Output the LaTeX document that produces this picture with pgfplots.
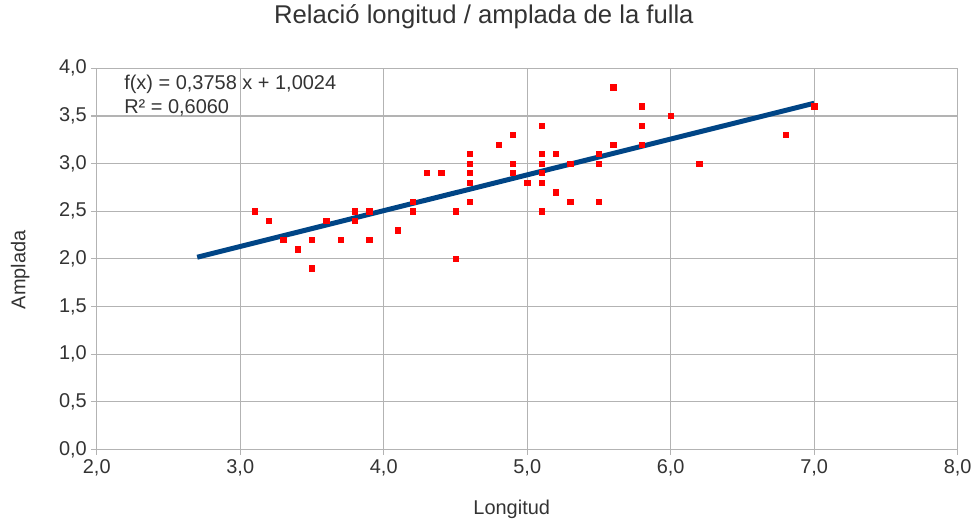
\documentclass[border=0pt]{standalone}
\usepackage{pgfplots}
\pgfplotsset{compat=1.18}
\usepackage{fontspec}
\setmainfont{Liberation Sans}
\definecolor{gridgray}{HTML}{B3B3B3}
\definecolor{trendblue}{HTML}{004586}
\definecolor{txt}{HTML}{333333}

\begin{document}
\begin{tikzpicture}
\begin{axis}[
    name=main,
    at={(0,0)}, anchor=south west,
    scale only axis,
    width=647.25pt, height=286.5pt,
    xmin=2, xmax=8, ymin=0, ymax=4,
    xtick={2,3,...,8},
    ytick={0,0.5,...,4},
    grid=major,
    major grid style={gridgray, line width=0.9pt},
    axis line style={gridgray, line width=0.9pt},
    tick style={gridgray, line width=0.9pt},
    tick align=outside,
    major tick length=4pt,
    xtick pos=bottom, ytick pos=left,
    font=\fontsize{15}{18}\selectfont,
    tick label style={txt, font=\fontsize{15}{18}\selectfont},
    /pgf/number format/assume math mode=true,
    /pgf/number format/.cd, fixed, fixed zerofill, precision=1, use comma,
    /pgfplots/.cd,
    title={Relació longitud / amplada de la fulla},
    title style={txt, font=\fontsize{19.3}{23}\selectfont, at={(axis description cs:0.4496,1.097)}, anchor=base},
    xlabel={Longitud},
    xlabel style={txt, at={(axis description cs:0.482,-0.157)}, anchor=center},
    ylabel={Amplada},
    ylabel style={txt, at={(axis description cs:-0.089,0.471)}, anchor=center, rotate=0},
    clip=false,
]
% regression line (as shown by the trend line)
\addplot[trendblue, line width=3.75pt, no markers] coordinates {(2.7,2.017) (7.0,3.633)};
% measurements
\addplot[only marks, mark=square*, mark size=2pt, color=red, mark options={fill=red, draw=red, rounded corners=0.6pt}] coordinates {
(3.1,2.5) (3.2,2.4) (3.3,2.2) (3.4,2.1) (3.5,2.2) (3.5,1.9) (3.6,2.4) (3.7,2.2)
(3.8,2.5) (3.8,2.4) (3.9,2.5) (3.9,2.2) (4.1,2.3) (4.2,2.6) (4.2,2.5) (4.3,2.9)
(4.4,2.9) (4.5,2.5) (4.5,2.0) (4.6,3.1) (4.6,3.0) (4.6,2.9) (4.6,2.8) (4.6,2.6)
(4.8,3.2) (4.9,3.3) (4.9,3.0) (4.9,2.9) (5.0,2.8) (5.1,3.4) (5.1,3.1) (5.1,3.0)
(5.1,2.9) (5.1,2.8) (5.1,2.5) (5.2,3.1) (5.2,2.7) (5.3,3.0) (5.3,2.6) (5.5,3.1)
(5.5,3.0) (5.5,2.6) (5.6,3.8) (5.6,3.2) (5.8,3.6) (5.8,3.4) (5.8,3.2) (6.0,3.5)
(6.2,3.0) (6.8,3.3) (7.0,3.6)
};
\node[txt, anchor=north west, align=left, font=\fontsize{15}{18}\selectfont, inner sep=0pt]
  at (axis cs:2.19,3.93) {f(x) = 0,3758 x + 1,0024\\R² = 0,6060};
\end{axis}
\useasboundingbox (-72.75pt,-54.75pt) rectangle (659.25pt,337.5pt);
\end{tikzpicture}
\end{document}
